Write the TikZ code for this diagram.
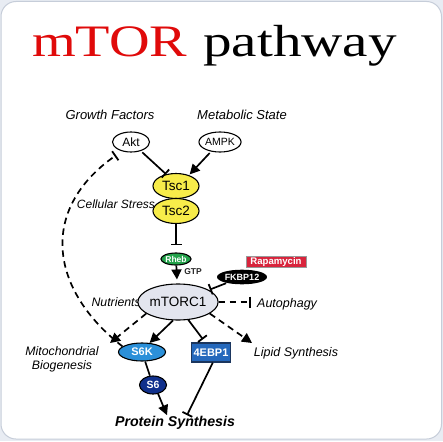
\documentclass[tikz,border=0pt]{standalone}
\usepackage{fontspec}
\setmainfont{Liberation Sans}
\newfontfamily\titlefont{Liberation Serif}
\usetikzlibrary{arrows.meta,shapes.geometric,calc}
\definecolor{bgout}{HTML}{E8ECF3}
\definecolor{bordgrey}{HTML}{C6CDD9}
\definecolor{titlered}{HTML}{E00A0A}
\definecolor{tscyellow}{HTML}{F7EC4A}
\definecolor{rhebgreen}{HTML}{22A24A}
\definecolor{mtorfill}{HTML}{E3E5EE}
\definecolor{rapared}{HTML}{D8243C}
\definecolor{s6kblue}{HTML}{2B90D9}
\definecolor{ebpblue}{HTML}{2468BC}
\definecolor{ebpborder}{HTML}{1B365E}
\definecolor{s6blue}{HTML}{10308C}
\begin{document}
\begin{tikzpicture}[x=1pt,y=-1pt,
  lbl/.style={font=\fontsize{12.5}{14}\selectfont\itshape, inner sep=0pt},
  ell/.style={ellipse, draw=black, line width=1.1pt, inner sep=0pt},
  act/.style={-{Triangle[length=10pt,width=10pt]}, line width=1.7pt},
  inh/.style={-{Bar[width=11pt,line width=1.8pt]}, line width=1.7pt},
  dsh/.style={dash pattern=on 6.5pt off 4.5pt},
  wtext/.style={text=white, font=\fontsize{#1}{#1}\selectfont\bfseries},
]
\useasboundingbox (0,0) rectangle (443,441);
\fill[bgout] (0,0) rectangle (443,441);
\draw[fill=white, draw=bordgrey, line width=1pt, rounded corners=15pt] (1,1.5) rectangle (441.5,439);

% title
\node[anchor=base west, inner sep=0pt, text=titlered] (t1) at (32,57)
  {\scalebox{1.25}[1]{\titlefont\fontsize{45}{45}\selectfont mTOR}};
\node[anchor=base west, inner sep=0pt] (t2) at (203,57)
  {\scalebox{1.27}[1]{\titlefont\fontsize{45}{45}\selectfont pathway}};

% labels
\node[lbl, font=\fontsize{13}{14}\selectfont\itshape] (gf) at (110,115) {Growth Factors};
\node[lbl, font=\fontsize{13}{14}\selectfont\itshape] (ms) at (242,115) {Metabolic State};
\node[lbl, font=\fontsize{12}{14}\selectfont\itshape] (cs) at (116,204) {Cellular Stress};
\node[lbl, font=\fontsize{12.3}{14}\selectfont\itshape, anchor=east] (nut) at (141,302) {Nutrients};
\node[lbl, anchor=west] (auto) at (257,304) {Autophagy};
\node[lbl, align=center, font=\fontsize{12.3}{14}\selectfont\itshape] (mito) at (62,359) {Mitochondrial\\Biogenesis};
\node[lbl] (lipid) at (296,353) {Lipid Synthesis};
\node[inner sep=0pt, font=\fontsize{14.2}{16}\selectfont\bfseries\itshape] (ps) at (175,423) {Protein Synthesis};

% nodes
\node[ell, fill=white, minimum width=37pt, minimum height=20pt, font=\fontsize{12}{12}\selectfont] (akt) at (131,142) {Akt};
\node[ell, fill=white, minimum width=37pt, minimum height=20pt, font=\fontsize{10.5}{11}\selectfont] (ampk) at (220,142) {AMPK};
\node[ell, fill=tscyellow, minimum width=46pt, minimum height=25pt, font=\fontsize{13.5}{13}\selectfont] (tsc1) at (176,186) {Tsc1};
\node[ell, fill=tscyellow, minimum width=46pt, minimum height=25pt, font=\fontsize{13.5}{13}\selectfont] (tsc2) at (176,211) {Tsc2};
\node[ell, fill=rhebgreen, minimum width=26pt, minimum height=12pt, wtext=8.5] (rheb) at (176,259) {Rheb};
\node[ell, fill=mtorfill, minimum width=59pt, minimum height=36pt, font=\fontsize{13.5}{13}\selectfont] (mtorc) at (178,302) {mTORC1};
\node[draw=gray!80, line width=0.8pt, fill=rapared, minimum width=60pt, minimum height=11.5pt, inner sep=0pt, wtext=9.6] (rapa) at (276,262) {Rapamycin};
\node[ell, fill=black, minimum width=40pt, minimum height=13.5pt, wtext=9] (fkbp) at (242,277) {FKBP12};
\node[inner sep=0pt, font=\fontsize{8.5}{9}\selectfont\bfseries, text=black!85] (gtp) at (193,272) {GTP};
\node[ell, fill=s6kblue, minimum width=47pt, minimum height=18pt, wtext=11] (s6k) at (142,352) {S6K};
\node[draw=ebpborder, line width=1.3pt, fill=ebpblue, minimum width=39pt, minimum height=19pt, inner sep=0pt, wtext=11] (ebp) at (211,352.5) {4EBP1};
\node[ell, fill=s6blue, minimum width=27pt, minimum height=18pt, wtext=10.5] (s6) at (153,385) {S6};

\coordinate (mitotip) at (110,343);
\coordinate (lipidtip) at (252,343);

% connectors
\draw[inh, shorten <=2pt] (akt) -- (tsc1.130);
\draw[act, shorten <=2pt, shorten >=1pt] (ampk) -- (tsc1.40);
\draw[inh, shorten >=7pt] (tsc2) -- (rheb);
\draw[act, shorten >=4pt] (rheb) -- (mtorc);
\draw[inh, shorten <=1pt, shorten >=1pt] (fkbp) -- (mtorc);
\draw[inh, dsh, shorten >=6pt] (mtorc.east) -- (mtorc.east -| auto.west);
\draw[act] (mtorc.255) -- (s6k.50);
\draw[inh] (mtorc.300) -- ([xshift=-8pt,yshift=3pt]ebp.north);
\draw[act, dsh] (mtorc.200) -- (mitotip);
\draw[act, dsh] (mtorc.-20) -- (lipidtip);
\draw[line width=1.7pt] (s6k) -- (s6);
\draw[act] (s6.-60) -- ([xshift=-8pt,yshift=1pt]ps.north);
\draw[inh] (ebp.-80) -- ([xshift=12pt,yshift=1pt]ps.north);
\draw[inh, dsh, shorten >=7pt] (s6k.164) .. controls (50,290) and (38,210) .. (akt.225);
\end{tikzpicture}
\end{document}
